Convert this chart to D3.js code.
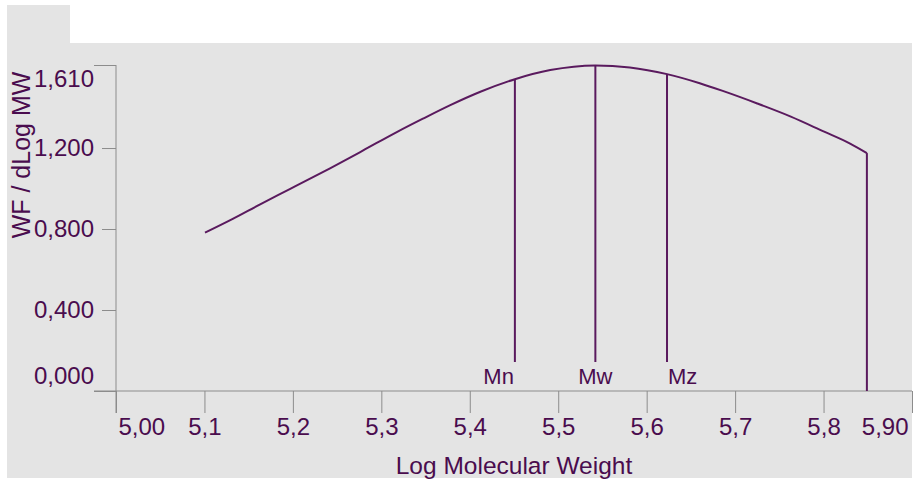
<!DOCTYPE html>
<html>
<head>
<meta charset="utf-8">
<script src="https://cdn.jsdelivr.net/npm/d3@7"></script>
<style>
  html, body { margin: 0; padding: 0; background: #ffffff; }
  svg { display: block; }
  text { font-family: "Liberation Sans", Arial, sans-serif; }
</style>
</head>
<body>
<svg id="chart" width="916" height="484"></svg>
<script>
// ---- data ----
const logMW = [5.1006, 5.132, 5.163, 5.197, 5.242, 5.279, 5.318, 5.347, 5.378, 5.412,
               5.451, 5.491, 5.542, 5.581, 5.623, 5.660, 5.686, 5.725, 5.763, 5.800, 5.830, 5.849];
const wfValues = [0.782, 0.850, 0.922, 0.998, 1.100, 1.187, 1.280, 1.345, 1.412, 1.478,
                  1.540, 1.585, 1.608, 1.598, 1.565, 1.520, 1.482, 1.420, 1.355, 1.282, 1.222, 1.175];
const markerNames = ["Mn", "Mw", "Mz"];
const markerX = [5.451, 5.542, 5.623];
const markerY = [1.540, 1.608, 1.565];
const xTickValues = [5.0, 5.1, 5.2, 5.3, 5.4, 5.5, 5.6, 5.7, 5.8, 5.9];
const xTickLabels = ["5,00", "5,1", "5,2", "5,3", "5,4", "5,5", "5,6", "5,7", "5,8", "5,90"];
const yTickValues = [0, 0.4, 0.8, 1.2, 1.61];
const yTickLabels = ["0,000", "0,400", "0,800", "1,200", "1,610"];
const xTitle = "Log Molecular Weight";
const yTitle = "WF / dLog MW";

// ---- layout ----
const textColor = "#4a0c4e";
const lineColor = "#5a1a5e";
const axisColor = "#8c8c8c";
const svg = d3.select("#chart");

// background panels
svg.append("rect").attr("x", 7).attr("y", 5).attr("width", 63).attr("height", 40).attr("fill", "#e4e4e4");
svg.append("rect").attr("x", 7).attr("y", 43).attr("width", 905).attr("height", 435).attr("fill", "#e4e4e4");

const x = d3.scaleLinear().domain([5.0, 5.9]).range([116, 912]);
const y = d3.scaleLinear().domain([0, 1.61]).range([391, 65]);

// x axis
const xAxis = d3.axisBottom(x)
  .tickValues(xTickValues)
  .tickFormat((d, i) => xTickLabels[i])
  .tickSize(22).tickSizeOuter(0).tickPadding(5);
const gx = svg.append("g").attr("transform", `translate(0,${y(0)})`).call(xAxis);
gx.select(".domain").remove();
gx.selectAll("line").attr("stroke", axisColor);
gx.selectAll("text").attr("fill", textColor).style("font-size", "24px");
gx.selectAll(".tick").filter((d, i) => i === 0).select("text").attr("text-anchor", "start").attr("dx", 2);
gx.selectAll(".tick").filter((d, i) => i === xTickValues.length - 1).select("text").attr("text-anchor", "end").attr("dx", -4);
svg.append("line").attr("x1", 94).attr("x2", x(5.9)).attr("y1", y(0)).attr("y2", y(0)).attr("stroke", axisColor);

// y axis
const yAxis = d3.axisLeft(y)
  .tickValues(yTickValues)
  .tickFormat((d, i) => yTickLabels[i])
  .tickSize(14).tickSizeOuter(0).tickPadding(8);
const gy = svg.append("g").attr("transform", `translate(${x(5.0)},0)`).call(yAxis);
gy.select(".domain").remove();
gy.selectAll("line").attr("stroke", axisColor);
gy.selectAll("text").attr("fill", textColor).style("font-size", "24px");
gy.selectAll(".tick").filter((d, i) => i === 0 || i === yTickValues.length - 1).select("line").attr("x2", -22);
gy.selectAll(".tick").filter((d, i) => i === 0).select("text").attr("y", -15);
gy.selectAll(".tick").filter((d, i) => i === yTickValues.length - 1).select("text").attr("y", 14);
svg.append("line").attr("x1", x(5.0)).attr("x2", x(5.0)).attr("y1", y(1.61)).attr("y2", y(0) + 22).attr("stroke", axisColor);

// titles
svg.append("text").attr("x", (x(5.0) + x(5.9)) / 2).attr("y", 474)
  .attr("text-anchor", "middle").attr("fill", textColor).style("font-size", "24.5px").text(xTitle);
svg.append("text").attr("transform", "translate(30,155) rotate(-90)")
  .attr("text-anchor", "middle").attr("fill", textColor).style("font-size", "25px").text(yTitle);

// curve
const pts = logMW.map((v, i) => [v, wfValues[i]]);
const line = d3.line().x(d => x(d[0])).y(d => y(d[1])).curve(d3.curveMonotoneX);
svg.append("path").datum(pts).attr("d", line)
  .attr("fill", "none").attr("stroke", lineColor).attr("stroke-width", 2);
// end drop
const last = pts[pts.length - 1];
svg.append("line").attr("x1", x(last[0])).attr("x2", x(last[0]))
  .attr("y1", y(last[1])).attr("y2", y(0)).attr("stroke", lineColor).attr("stroke-width", 2);

// markers
const anchors = ["end", "middle", "start"];
const dxs = [-1, 0, 1];
markerNames.forEach((name, i) => {
  svg.append("line").attr("x1", x(markerX[i])).attr("x2", x(markerX[i]))
    .attr("y1", y(markerY[i])).attr("y2", y(0) - 29)
    .attr("stroke", lineColor).attr("stroke-width", 2);
  svg.append("text").attr("x", x(markerX[i]) + dxs[i]).attr("y", y(0) - 7)
    .attr("text-anchor", anchors[i]).attr("fill", textColor).style("font-size", "22px").text(name);
});
</script>
</body>
</html>
